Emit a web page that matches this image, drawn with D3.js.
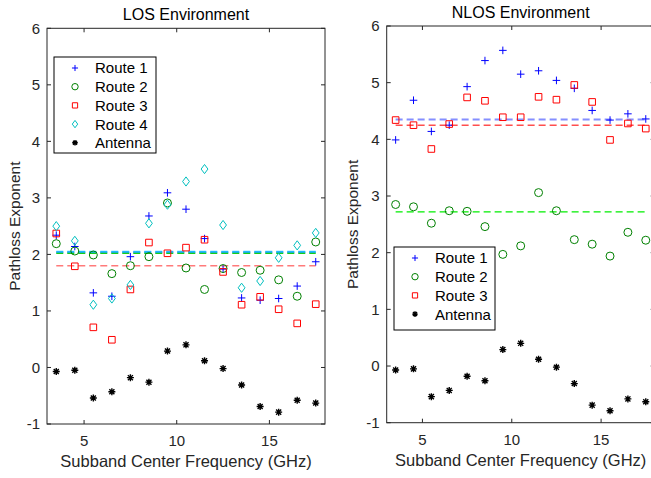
<!DOCTYPE html>
<html>
<head>
<meta charset="utf-8">
<script src="https://cdn.jsdelivr.net/npm/d3@7"></script>
<style>
  body { margin: 0; background: #fff; }
  svg { display: block; font-family: "Liberation Sans", Arial, sans-serif; }
</style>
</head>
<body>
<div id="chart"></div>
<script>
////////////// DATA //////////////

const freqs = [3.5, 4.5, 5.5, 6.5, 7.5, 8.5, 9.5, 10.5, 11.5, 12.5, 13.5, 14.5, 15.5, 16.5, 17.5];

const losRoute1 = [2.34, 2.14, 1.32, 1.26, 1.96, 2.68, 3.09, 2.80, 2.28, 1.74, 1.23, 1.19, 1.22, 1.44, 1.87];
const losRoute2 = [2.19, 2.06, 1.99, 1.66, 1.80, 1.96, 2.91, 1.76, 1.38, 1.75, 1.68, 1.72, 1.55, 1.26, 2.22];
const losRoute3 = [2.37, 1.79, 0.71, 0.49, 1.38, 2.21, 2.02, 2.12, 2.26, 1.69, 1.11, 1.25, 1.03, 0.78, 1.12];
const losRoute4 = [2.50, 2.24, 1.11, 1.22, 1.46, 2.55, 2.88, 3.29, 3.51, 2.52, 1.41, 1.53, 1.94, 2.16, 2.38];

const nlosRoute1 = [3.99, 4.69, 4.14, 4.25, 4.93, 5.39, 5.57, 5.15, 5.21, 5.04, 4.90, 4.51, 4.34, 4.45, 4.36];
const nlosRoute2 = [2.85, 2.81, 2.52, 2.74, 2.73, 2.46, 1.97, 2.12, 3.06, 2.74, 2.23, 2.15, 1.94, 2.36, 2.22];
const nlosRoute3 = [4.34, 4.25, 3.83, 4.27, 4.74, 4.68, 4.39, 4.39, 4.75, 4.70, 4.96, 4.66, 3.99, 4.28, 4.19];

const antenna = [-0.07, -0.05, -0.54, -0.43, -0.18, -0.26, 0.29, 0.40, 0.12, -0.02, -0.31, -0.69, -0.79, -0.58, -0.63];

// fitted exponent per route (dashed lines)
const losFit = { route1: 2.04, route2: 2.02, route3: 1.80, route4: 2.045 };
const nlosFit = { route1: 4.35, route2: 2.72, route3: 4.25 };

const yTicks = [-1, 0, 1, 2, 3, 4, 5, 6];
const xTicks = [5, 10, 15];

////////////// HELPERS //////////////

const W = 651, H = 478;
const axisColor = "#262626";

const svg = d3.select("#chart").append("svg")
    .attr("width", W)
    .attr("height", H);

function markerPath(type, s) {
    if (type === "plus") return `M${-s},0L${s},0M0,${-s}L0,${s}`;
    if (type === "circle") return d3.symbol(d3.symbolCircle, Math.PI * s * s)();
    if (type === "square") return `M${-s},${-s}L${s},${-s}L${s},${s}L${-s},${s}Z`;
    if (type === "diamond") return `M0,${-s * 1.35}L${s},0L0,${s * 1.35}L${-s},0Z`;
    // asterisk
    const d = s * 0.72;
    return `M${-s},0L${s},0M0,${-s}L0,${s}M${-d},${-d}L${d},${d}M${-d},${d}L${d},${-d}`;
}

const styles = {
    route1: { type: "plus", size: 3.8, color: "#0000ff", width: 1 },
    route2: { type: "circle", size: 4, color: "#008000", width: 1 },
    route3: { type: "square", size: 3.3, color: "#ff0000", width: 1 },
    route4: { type: "diamond", size: 3.4, color: "#00bfbf", width: 1 },
    antenna: { type: "asterisk", size: 3.5, color: "#000000", width: 1.4 }
};

function drawPanel(cfg) {
    const g = svg.append("g");
    const x = d3.scaleLinear().domain([3, 18]).range([cfg.left, cfg.right]);
    const y = d3.scaleLinear().domain([-1, 6]).range([cfg.bottom, cfg.top]);

    // fit lines
    cfg.fits.forEach(f => {
        g.append("line")
            .attr("x1", x(freqs[0]))
            .attr("x2", x(freqs[freqs.length - 1]))
            .attr("y1", y(f.value))
            .attr("y2", y(f.value))
            .attr("stroke", f.color)
            .attr("stroke-width", f.width)
            .attr("stroke-opacity", f.opacity)
            .attr("stroke-dasharray", "7,4");
    });

    // markers
    cfg.series.forEach(s => {
        const st = styles[s.key];
        g.append("g")
            .selectAll("path")
            .data(s.values)
            .enter()
            .append("path")
            .attr("transform", (d, i) => `translate(${x(freqs[i])},${y(d)})`)
            .attr("d", markerPath(st.type, st.size))
            .attr("fill", "none")
            .attr("stroke", st.color)
            .attr("stroke-width", st.width);
    });

    // axes box
    g.append("rect")
        .attr("x", cfg.left)
        .attr("y", cfg.top)
        .attr("width", cfg.right - cfg.left)
        .attr("height", cfg.bottom - cfg.top)
        .attr("fill", "none")
        .attr("stroke", axisColor)
        .attr("stroke-width", 1);

    const tickLen = 4;

    // y ticks
    yTicks.forEach(t => {
        g.append("line")
            .attr("x1", cfg.left).attr("x2", cfg.left + tickLen)
            .attr("y1", y(t)).attr("y2", y(t))
            .attr("stroke", axisColor);
        g.append("line")
            .attr("x1", cfg.right).attr("x2", cfg.right - tickLen)
            .attr("y1", y(t)).attr("y2", y(t))
            .attr("stroke", axisColor);
        g.append("text")
            .attr("x", cfg.left - 7)
            .attr("y", y(t))
            .attr("dy", "0.35em")
            .attr("text-anchor", "end")
            .attr("font-size", 15)
            .attr("fill", axisColor)
            .text(t);
    });

    // x ticks
    xTicks.forEach(t => {
        g.append("line")
            .attr("x1", x(t)).attr("x2", x(t))
            .attr("y1", cfg.bottom).attr("y2", cfg.bottom - tickLen)
            .attr("stroke", axisColor);
        g.append("line")
            .attr("x1", x(t)).attr("x2", x(t))
            .attr("y1", cfg.top).attr("y2", cfg.top + tickLen)
            .attr("stroke", axisColor);
        g.append("text")
            .attr("x", x(t))
            .attr("y", cfg.bottom + 22)
            .attr("text-anchor", "middle")
            .attr("font-size", 15)
            .attr("fill", axisColor)
            .text(t);
    });

    const cx = (cfg.left + cfg.right) / 2;

    g.append("text")
        .attr("x", cx)
        .attr("y", cfg.top - 8)
        .attr("text-anchor", "middle")
        .attr("font-size", 16)
        .attr("fill", "#000")
        .text(cfg.title);

    g.append("text")
        .attr("x", cx)
        .attr("y", cfg.bottom + 43)
        .attr("text-anchor", "middle")
        .attr("font-size", 16.5)
        .attr("fill", axisColor)
        .text("Subband Center Frequency (GHz)");

    g.append("text")
        .attr("transform", `translate(${cfg.ylabelX},${(cfg.top + cfg.bottom) / 2}) rotate(-90)`)
        .attr("text-anchor", "middle")
        .attr("font-size", 15.5)
        .attr("fill", axisColor)
        .text("Pathloss Exponent");

    // legend
    const lg = g.append("g").attr("transform", `translate(${cfg.legend.x},${cfg.legend.y})`);
    const rowH = 18.7;
    lg.append("rect")
        .attr("width", cfg.legend.w)
        .attr("height", cfg.legend.h)
        .attr("fill", "#fff")
        .attr("stroke", "#000")
        .attr("stroke-width", 1);
    cfg.series.forEach((s, i) => {
        const st = styles[s.key];
        const ry = 11 + i * rowH;
        lg.append("path")
            .attr("transform", `translate(21,${ry})`)
            .attr("d", markerPath(st.type, st.size * 0.8))
            .attr("fill", "none")
            .attr("stroke", st.color)
            .attr("stroke-width", st.width);
        lg.append("text")
            .attr("x", 41)
            .attr("y", ry)
            .attr("dy", "0.36em")
            .attr("font-size", 15)
            .attr("fill", "#000")
            .text(s.name);
    });
}

////////////// PANELS //////////////

drawPanel({
    title: "LOS Environment",
    left: 47, right: 325, top: 28.3, bottom: 424,
    ylabelX: 20,
    legend: { x: 54, y: 57, w: 102, h: 96 },
    series: [
        { key: "route1", name: "Route 1", values: losRoute1 },
        { key: "route2", name: "Route 2", values: losRoute2 },
        { key: "route3", name: "Route 3", values: losRoute3 },
        { key: "route4", name: "Route 4", values: losRoute4 },
        { key: "antenna", name: "Antenna", values: antenna }
    ],
    fits: [
        { value: losFit.route1, color: "#0033ff", width: 2, opacity: 0.6 },
        { value: losFit.route3, color: "#ff3333", width: 1.6, opacity: 0.65 },
        { value: losFit.route2, color: "#00cc00", width: 1.5, opacity: 0.9 },
        { value: losFit.route4, color: "#00bfff", width: 2, opacity: 0.75 }
    ]
});

drawPanel({
    title: "NLOS Environment",
    left: 386.7, right: 654.7, top: 26, bottom: 422.7,
    ylabelX: 358,
    legend: { x: 394, y: 247, w: 101, h: 83 },
    series: [
        { key: "route1", name: "Route 1", values: nlosRoute1 },
        { key: "route2", name: "Route 2", values: nlosRoute2 },
        { key: "route3", name: "Route 3", values: nlosRoute3 },
        { key: "antenna", name: "Antenna", values: antenna }
    ],
    fits: [
        { value: nlosFit.route1, color: "#3344ff", width: 2.2, opacity: 0.6 },
        { value: nlosFit.route3, color: "#ff2222", width: 1.5, opacity: 0.8 },
        { value: nlosFit.route2, color: "#00ee00", width: 1.3, opacity: 1 }
    ]
});
</script>
</body>
</html>
